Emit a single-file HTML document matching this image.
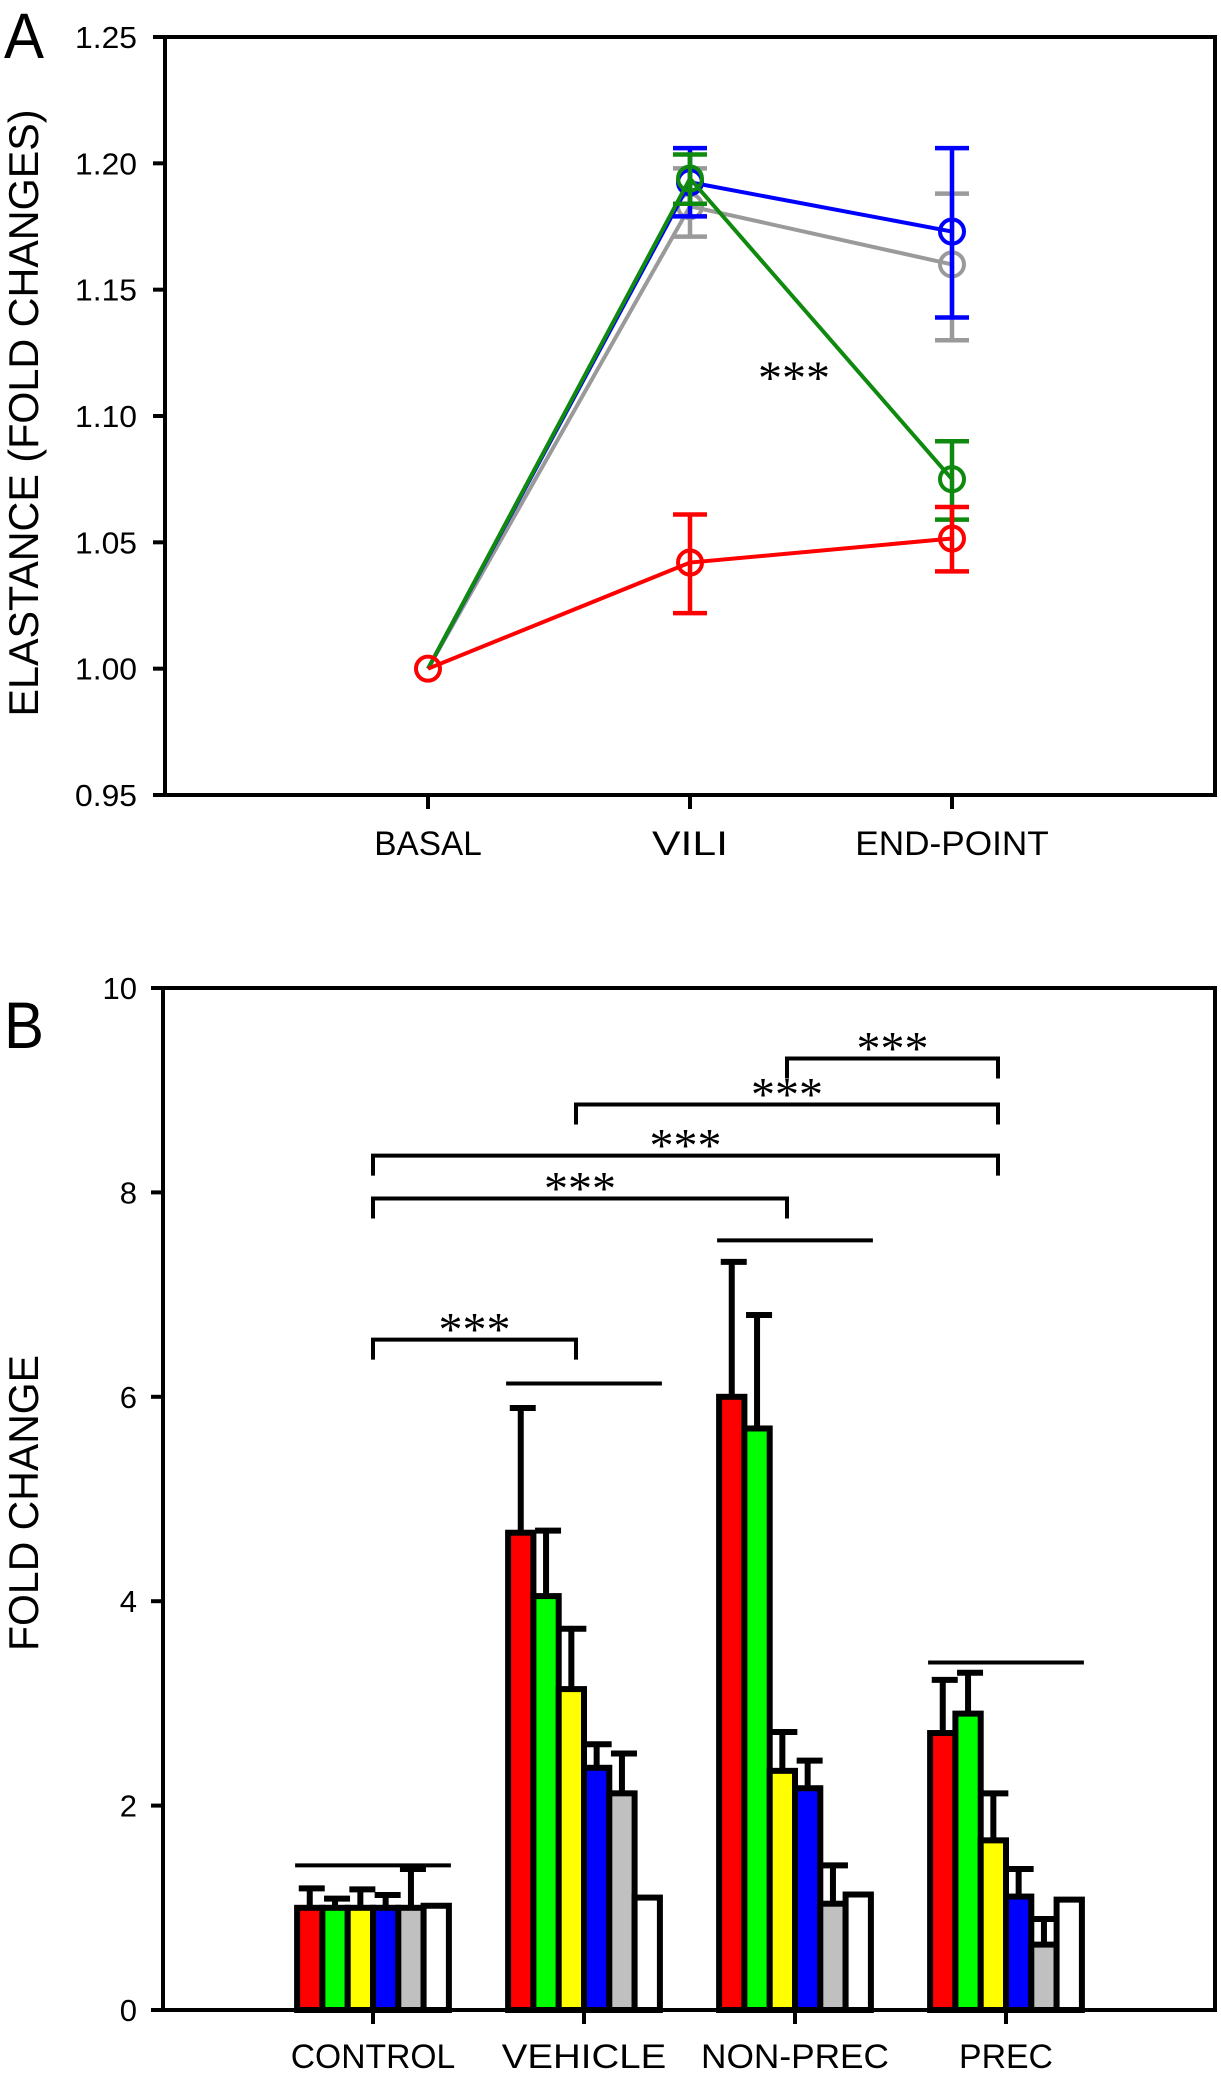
<!DOCTYPE html>
<html><head><meta charset="utf-8">
<style>
html,body{margin:0;padding:0;background:#fff;}
svg{display:block;}
text{font-family:"Liberation Sans",sans-serif;fill:#000;}
.star{font-family:"Liberation Serif",serif;}
</style></head>
<body>
<svg id="fig" width="1221" height="2077" viewBox="0 0 1221 2077">
  <g id="panelA"></g>
  <g id="panelB"></g>
</svg>
<script>
// ---------- Panel A data ----------
const aCategories = ["BASAL", "VILI", "END-POINT"];
const aYTicks = [0.95, 1.00, 1.05, 1.10, 1.15, 1.20, 1.25];
const aYTickLabels = ["0.95", "1.00", "1.05", "1.10", "1.15", "1.20", "1.25"];
const aSeriesNames = ["gray", "blue", "green", "red"];
const aGrayMean = [1.00, 1.183, 1.160];
const aGrayLo = [null, 1.171, 1.130];
const aGrayHi = [null, 1.198, 1.188];
const aBlueMean = [1.00, 1.1925, 1.173];
const aBlueLo = [null, 1.179, 1.139];
const aBlueHi = [null, 1.206, 1.206];
const aGreenMean = [1.00, 1.194, 1.075];
const aGreenLo = [null, 1.184, 1.059];
const aGreenHi = [null, 1.2035, 1.090];
const aRedMean = [1.00, 1.042, 1.0515];
const aRedLo = [null, 1.022, 1.0385];
const aRedHi = [null, 1.061, 1.064];

// ---------- Panel B data ----------
const bCategories = ["CONTROL", "VEHICLE", "NON-PREC", "PREC"];
const bYTicks = [0, 2, 4, 6, 8, 10];
const bYTickLabels = ["0", "2", "4", "6", "8", "10"];
const bRed = [1.0, 4.67, 6.0, 2.71];
const bRedErr = [1.19, 5.89, 7.32, 3.23];
const bGreen = [1.0, 4.05, 5.69, 2.90];
const bGreenErr = [1.09, 4.69, 6.80, 3.30];
const bYellow = [1.0, 3.14, 2.34, 1.66];
const bYellowErr = [1.18, 3.73, 2.72, 2.12];
const bBlue = [1.0, 2.37, 2.17, 1.11];
const bBlueErr = [1.125, 2.60, 2.44, 1.38];
const bGray = [1.0, 2.12, 1.04, 0.64];
const bGrayErr = [1.38, 2.51, 1.415, 0.89];
const bWhite = [1.02, 1.10, 1.13, 1.08];
const bGroupLines = [1.415, 6.13, 7.53, 3.40];
const bBracketFrom = [0, 0, 0, 1, 2];
const bBracketTo = [1, 2, 3, 3, 3];
const bBracketLevel = [6.56, 7.94, 8.36, 8.86, 9.31];

const NS = "http://www.w3.org/2000/svg";
function mk(parent, tag, attrs) {
  const e = document.createElementNS(NS, tag);
  for (const k in attrs) e.setAttribute(k, attrs[k]);
  parent.appendChild(e);
  return e;
}

// ===== Panel A =====
const A = document.getElementById('panelA');
const aL = 165, aR = 1215, aT = 37, aB = 795;
const ayScale = v => aB - (v - 0.95) / 0.30 * (aB - aT);
const axScale = i => 428 + i * 262;

let t = mk(A, 'text', {x: 4, y: 58, 'font-size': 64, textLength: 40, lengthAdjust: 'spacingAndGlyphs'});
t.textContent = 'A';



t = mk(A, 'text', {x: 0, y: 0, 'font-size': 42, 'text-anchor': 'middle', transform: 'translate(38,413) rotate(-90)', textLength: 607, lengthAdjust: 'spacingAndGlyphs'});
t.textContent = 'ELASTANCE (FOLD CHANGES)';



let r = mk(A, 'rect', {x: aL, y: aT, width: aR - aL, height: aB - aT, fill: 'none', stroke: '#000', 'stroke-width': 4});



aYTicks.forEach((v, i) => {
  const y = ayScale(v);
  const l = mk(A, 'line', {x1: aL - 12, x2: aL, y1: y, y2: y, stroke: '#000', 'stroke-width': 4});
  
  
  const tx = mk(A, 'text', {x: 137, y: y + 11, 'font-size': 31, 'text-anchor': 'end', textLength: 62, lengthAdjust: 'spacingAndGlyphs'});
  tx.textContent = aYTickLabels[i];
  
  
});
aCategories.forEach((c, i) => {
  const x = axScale(i);
  const l = mk(A, 'line', {x1: x, x2: x, y1: aB, y2: aB + 14, stroke: '#000', 'stroke-width': 4});
  
  
  const tx = mk(A, 'text', {x: x, y: 855, 'font-size': 34, 'text-anchor': 'middle', textLength: c.length * 21.5 - (c === 'VILI' ? 10 : 0), lengthAdjust: 'spacingAndGlyphs'});
  tx.textContent = c;
  
  
});

const aSeries = [
  {name: 'gray', color: '#9a9a9a', m: aGrayMean, lo: aGrayLo, hi: aGrayHi},
  {name: 'blue', color: '#0000ff', m: aBlueMean, lo: aBlueLo, hi: aBlueHi},
  {name: 'green', color: '#0f8a0f', m: aGreenMean, lo: aGreenLo, hi: aGreenHi},
  {name: 'red', color: '#ff0000', m: aRedMean, lo: aRedLo, hi: aRedHi}
];
aSeries.forEach(s => {
  const g = mk(A, 'g', {});
  
  
  const pts = s.m.map((v, i) => axScale(i) + ',' + ayScale(v)).join(' ');
  const pl = mk(g, 'polyline', {points: pts, fill: 'none', stroke: s.color, 'stroke-width': 4});
  
  
  s.m.forEach((v, i) => {
    const x = axScale(i);
    if (s.lo[i] !== null) {
      const eb = mk(g, 'path', {d: `M${x},${ayScale(s.lo[i])}V${ayScale(s.hi[i])}M${x-17},${ayScale(s.lo[i])}H${x+17}M${x-17},${ayScale(s.hi[i])}H${x+17}`, stroke: s.color, 'stroke-width': 4.5, fill: 'none'});
      
      
    }
    if (i > 0 || s.name === 'red') {
      const c = mk(g, 'circle', {cx: x, cy: ayScale(v), r: 12, fill: 'none', stroke: s.color, 'stroke-width': 4});
      
      
    }
  });
});
t = mk(A, 'text', {x: 794, y: 394, 'font-size': 48, 'text-anchor': 'middle', class: 'star'});
t.textContent = '***';



// ===== Panel B =====
const B = document.getElementById('panelB');
const bL = 163, bR = 1215, bT = 988, bB = 2010;
const byScale = v => bB - v / 10 * (bB - bT);
const bCenter = i => 373 + i * 211;
const barW = 25.3;

t = mk(B, 'text', {x: 4, y: 1048, 'font-size': 66, textLength: 40, lengthAdjust: 'spacingAndGlyphs'});
t.textContent = 'B';



t = mk(B, 'text', {x: 0, y: 0, 'font-size': 42, 'text-anchor': 'middle', transform: 'translate(38,1503) rotate(-90)', textLength: 296, lengthAdjust: 'spacingAndGlyphs'});
t.textContent = 'FOLD CHANGE';



r = mk(B, 'rect', {x: bL, y: bT, width: bR - bL, height: bB - bT, fill: 'none', stroke: '#000', 'stroke-width': 4});



bYTicks.forEach((v, i) => {
  const y = byScale(v);
  const l = mk(B, 'line', {x1: bL - 12, x2: bL, y1: y, y2: y, stroke: '#000', 'stroke-width': 4});
  
  
  const tx = mk(B, 'text', {x: 137, y: y + 11, 'font-size': 31, 'text-anchor': 'end'});
  tx.textContent = bYTickLabels[i];
  
  
});

const bSeries = [
  {name: 'red', color: '#ff0000', v: bRed, e: bRedErr},
  {name: 'green', color: '#00ff00', v: bGreen, e: bGreenErr},
  {name: 'yellow', color: '#ffff00', v: bYellow, e: bYellowErr},
  {name: 'blue', color: '#0000ff', v: bBlue, e: bBlueErr},
  {name: 'gray', color: '#c0c0c0', v: bGray, e: bGrayErr},
  {name: 'white', color: '#ffffff', v: bWhite, e: null}
];
bCategories.forEach((c, gi) => {
  const cx = bCenter(gi);
  const g = mk(B, 'g', {});
  
  
  const x0 = cx - 3 * barW;
  bSeries.forEach((s, si) => {
    if (!s.e) return;
    const bx = x0 + si * barW + barW / 2;
    const yTop = byScale(s.e[gi]);
    const eb = mk(g, 'path', {d: `M${bx},${byScale(s.v[gi])}V${yTop}M${bx-11},${yTop}H${bx+15}`, stroke: '#000', 'stroke-width': 6, fill: 'none'});
    
    
  });
  bSeries.forEach((s, si) => {
    const bx = x0 + si * barW;
    const y = byScale(s.v[gi]);
    const rc = mk(g, 'rect', {x: bx, y: y, width: barW, height: bB - y, fill: s.color, stroke: '#000', 'stroke-width': 6});
    
    
  });
  const gl = mk(g, 'line', {x1: x0 - 2, x2: x0 + 6 * barW + 2, y1: byScale(bGroupLines[gi]), y2: byScale(bGroupLines[gi]), stroke: '#000', 'stroke-width': 4});
  
  
  const tk = mk(B, 'line', {x1: cx, x2: cx, y1: bB, y2: bB + 14, stroke: '#000', 'stroke-width': 4});
  
  
  const tx = mk(B, 'text', {x: cx, y: 2068, 'font-size': 34, 'text-anchor': 'middle', textLength: c.length * 23.5, lengthAdjust: 'spacingAndGlyphs'});
  tx.textContent = c;
  
  
});
mk(B, 'line', {x1: bL, x2: bR, y1: bB, y2: bB, stroke: '#000', 'stroke-width': 4});

bBracketFrom.forEach((f, i) => {
  const x1 = bCenter(f) + (f === 0 ? 0 : -8);
  const x2 = bCenter(bBracketTo[i]) - 8;
  const y = byScale(bBracketLevel[i]);
  const p = mk(B, 'path', {d: `M${x1},${y + 20}V${y}H${x2}V${y + 20}`, fill: 'none', stroke: '#000', 'stroke-width': 4});
  
  
  const st = mk(B, 'text', {x: (x1 + x2) / 2, y: y + 6, 'font-size': 48, 'text-anchor': 'middle', class: 'star'});
  st.textContent = '***';
  
  
});
</script>
</body></html>
